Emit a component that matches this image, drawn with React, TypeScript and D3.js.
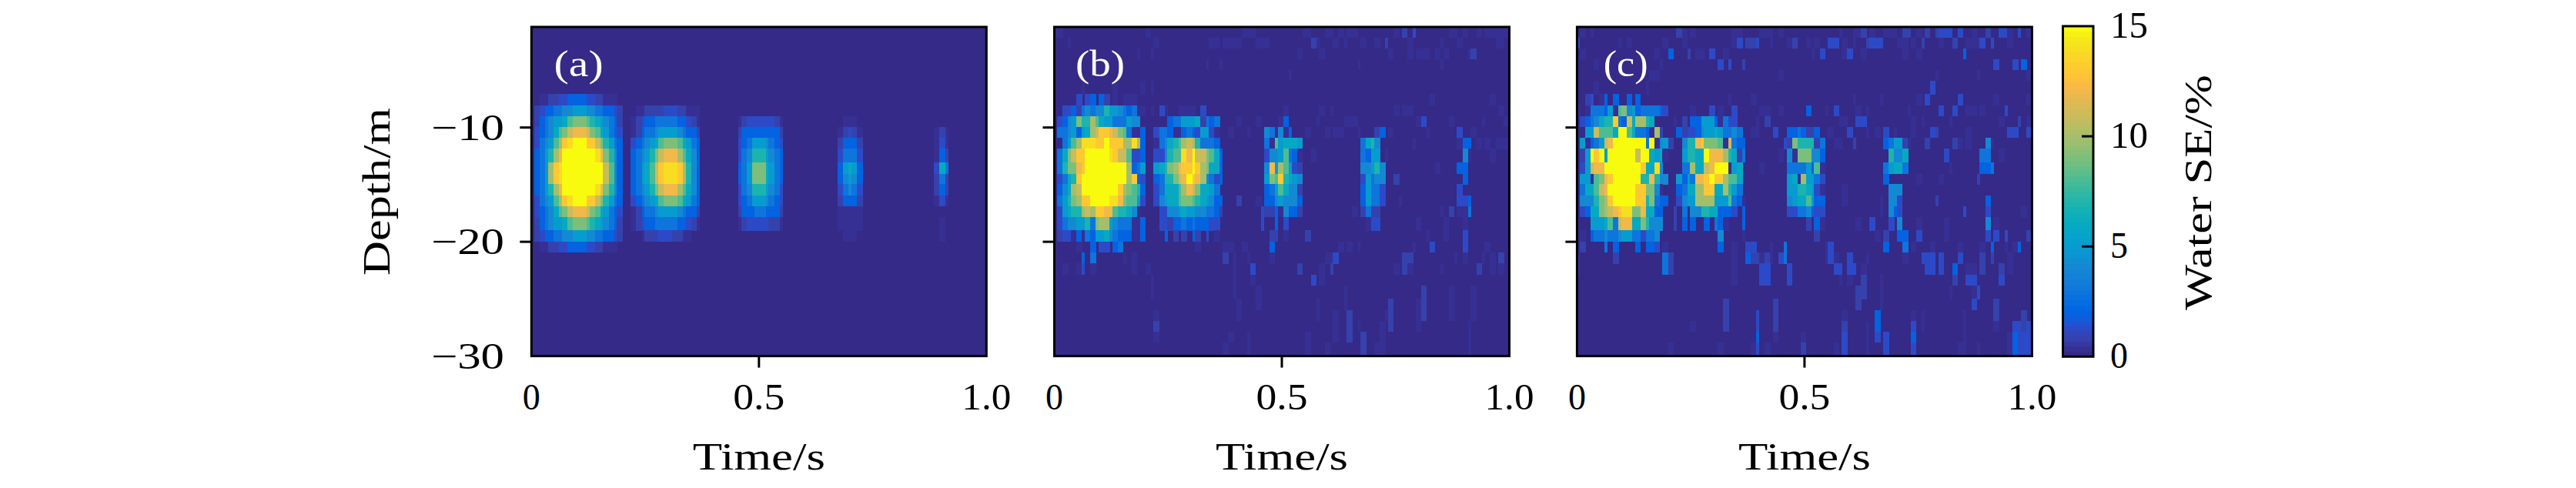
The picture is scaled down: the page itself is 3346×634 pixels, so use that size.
import React from 'react';
import * as d3 from 'd3';

// parula, 64 steps, as in the original figure
const parula = [
  '#352a87', '#363095', '#3637a0', '#3542ad', '#3244ba', '#2c4ac7', '#2053d4', '#0f5cdd',
  '#0363e1', '#0268e1', '#046de0', '#0871de', '#0d75dc', '#1079da', '#127dd8', '#1481d6',
  '#1485d4', '#1389d3', '#108ed2', '#0c93d2', '#0998d1', '#079ccf', '#06a0cd', '#06a4ca',
  '#06a7c6', '#07a9c2', '#0aacbe', '#0fafb9', '#15b1b4', '#1db3af', '#25b5a9', '#2eb7a4',
  '#38b99e', '#42bb98', '#4dbc92', '#59bd8c', '#65be86', '#71bf80', '#7cbf7b', '#87bf77',
  '#92bf73', '#9cbf6f', '#a5be6b', '#aebe67', '#b7bd64', '#c0bc60', '#c8bc5d', '#d1bb59',
  '#d9ba56', '#e1b952', '#e9b94e', '#f1b94a', '#f8ba44', '#fdbe3d', '#ffc337', '#fec832',
  '#fccd2e', '#fbd32a', '#f9d825', '#f7de21', '#f6e31d', '#f5e918', '#f6f113', '#f9fb0e',
];

const panelLabels = ['(a)', '(b)', '(c)'];
const xTickLabels = [
  { t: 0, label: '0' },
  { t: 0.5, label: '0.5' },
  { t: 1, label: '1.0' },
];
const xTickMarks = [0.5];
const yTickMarks = [-10, -20];
const yTickLabels = [
  { d: -10, label: '\u221210' },
  { d: -20, label: '\u221220' },
  { d: -30, label: '\u221230' },
];
const colorTickMarks = [5, 10];
const colorTickLabels = [0, 5, 10, 15];

// the raster is not even: 33 groups of one thin and two wide columns
const timeEdges = [...d3.range(33).flatMap(k => [k, k + 0.2, k + 0.6]), 33].map(v => v / 33);
const depthEdges = [
  -1.2, -2.13, -3.07, -4.02, -4.96, -5.9, -7.07, -8.04, -8.98, -9.93, -10.89, -11.85, -13.03, -14.04, -14.97,
  -15.92, -16.89, -17.83, -19, -19.97, -20.91, -21.89, -22.86, -23.83, -25, -25.96, -26.93, -27.87, -28.81, -30,
];

// each row: "startColumn=levels", anything not listed is 0
const levelValues: Record<string, number> = {
  '-': 0.25, '~': 0.45, '+': 0.8, '*': 1.3, 2: 2, 3: 3, 4: 4, 5: 5, 6: 6, 7: 7, 8: 8, 9: 9,
  A: 10, B: 11, C: 12, D: 13, E: 14, F: 15,
};

const panelA = [
  '', '', '', '', '', '',
  '2=~~++**2222**++~~-',
  '1=+*223344555443322*+ 23=-~++++***++~--',
  '1=+23455689998765432+ 22=-+*223333322*+~ 45=~+******+~ 68=---',
  '1=*234689BCCCB986532* 22=~+233455554322+ 45=+22222222+ 67=~+*+~ 88=-+-',
  '1=*3458ADEFFFDDB97532 22=*23456899986532 45=*23555432* 67=+222+ 88=~*~',
  '1=2357ACFFFFFFFEC9742 22=234579BCCCA8642 45=*347775432 67=*333* 88=~2+',
  '1=235ADEFFFFFFFFFB842 22=23568BDEEEDA742 45=2359996532 67=25652 88=*63',
  '1=235ADEFFFFFFFFFB842 22=23568BDEEEDA742 45=2359996532 67=24542 88=+3+',
  '1=2357ACFFFFFFFEC9742 22=234579BCCCA8642 45=*34777543* 67=*343* 88=+2+',
  '1=*3458ADEFFFDDB97532 22=*23456899986532 45=*23555432* 67=+222+ 88=-*~',
  '1=*234689BCCCB986532* 22=~+233455554322+ 45=+22233222+ 67=-----',
  '1=+23455689998765432+ 22=-+*223333322*+~ 45=~+*****++~ 67=~~~~~ 89=-',
  '1=+*223344555443322*+ 24=~+++***++~- 68=--- 89=-',
  '2=~~++**2222**++~~-',
  '', '', '', '', '', '', '', '', '',
];

const panelB = [
  '0=~~ 20=~ 41=--- 54=-- 59=-- 62=- 64=~~ 74=- 76=+ 78=* 86=~~ 89=- 92=~ 94=~~ 96=-- 98=-',
  '3=- 22=~ 34=-- 37=---- 44=--- 56=+- 61=- 63=~ 67=- 70=- 72=+ 77=- 84=- 88=- 96=~~',
  '18=- 21=- 53=~ 58=~ 73=~ 77=~ 79=~~~ 83=~ 85=~ 90=- 91=+',
  '33=- 36=- 66=~ 84=-',
  '51=-',
  '6=~ 13=~ 19=- 21=-',
  '5=* 7=*2 10=2+ 13=~ 15=~-- 82=~ 95=-',
  '2=**2+343447554323~~ 21=- 23=*~ 27=~~~~ 32=* 50=~ 58=~ 60=~ 74=~ 76=~~ 97=~',
  '1=*245977A8655333544 25=2335556+323 40=~ 44=~ 49=~2 57=- 63=~~~ 79=~* 86=~ 93=- 98=-',
  '1=3345256ABDDCB983--2 22=*332~~232*55*~ 38=~ 42=- 46=43~4-2 55=~ 59=~ 61=~~ 66=- 70=+2 73=~ 81=- 88=* 91=~',
  '2=358AEEEDDFDDDAAEA2 22=~34678ABA73332 46=3~856665 67=3674 78=~ 88=-22 92=~ 94=~ 96=~~~',
  '1=369BDDFFFFFEDBB8**2 22=**4788ECFBB9862 46=*445832- 56=~ 67=3255 72=- 89=4~ 95=~',
  '1=3799CDFFFFFFFFFA235 22=5679ACDDFDA9662 46=4C5A85*+ 67=44574 83=~ 88=22',
  '1=*367DFFFFFFFFFFAD2* 22=23779BCFDCA43*2 46=598D7654 67=*5344 74=+ 89=2',
  '1=246ABFFFFFFFFDA9872 22=*36668ACB96653 46=2358644+ 67=2533* 88=*',
  '1=3579ADDFFFFEEC9885* 22=*45668998765422 40=+ 44=~ 46=22454442 67=2533* 75=- 88=**2',
  '1=*5677ABADDCC87764~ 23=**44565544332+ 45=*++2~422+ 65=~ 67=+3++ 84=- 86=+ 88=~~3',
  '1=*34455739AA54333--2 23=**+22323222** 45=* 48=2 50=* 68=~** 79=~ 85=~ 89=~',
  '1=+**~2~3255643222--2 24=2 26=+ 28=+ 30=2+ 33=* 35=~ 47=++ 50=~ 55=+ 81=- 85=~ 89=*',
  '5=~ 8=2 10=** 13=23 31=~ 37=~~ 41=~ 47=2 62=~ 64=~ 66=- 78=- 82=* 89=* 94=~',
  '6=2 8=3 15=- 17=~ 37=+ 39=~ 42=- 47=~ 59=~~ 61=* 76=++ 87=- 89=~ 93=~ 95=~ 97=+',
  '2=~ 5=~* 8=~ 17=~ 20=~ 39=- 43=* 53=+ 58=~ 60=+ 74=~ 76=+~ 84=- 92=+ 95=~ 97=~',
  '21=~ 39=- 43=~ 56=* 58=~',
  '21=~ 39=- 44=- 63=- 80=+ 86=~ 91=-',
  '40=~ 44=- 57=- 63=- 73=+ 79=~+ 86=~ 91=-',
  '22=~ 40=~ 57=- 61=~ 64=+ 72=~+ 79=~+ 86=~ 91=-',
  '22=+ 61=~ 64=+ 66=- 71=~ 73=+ 79=~ 90=-',
  '22=~ 38=~ 42=- 55=~ 61=~ 64=+ 67=+ 71=~ 90=~',
  '37=~ 42=- 55=~ 59=~ 67=+ 70=~~ 90=-',
];

const panelC = [
  '1=- 3=- 22=+- 25=~ 34=-- 40=~ 41=~~ 44=~ 57=~ 60=~~+ 64=~ 67=~~~ 71=++ 74=~ 76=+ 78=+*** 83=* 86=~ 89=+ 92=** 94=~ 96=* 98=~',
  '0=* 9=- 11=- 19=~ 23=~ 34=~* 37=++* 42=~ 46=~+ 50=- 52=~ 55=** 58=- 60=- 63=+*** 70=~~ 73=- 75=+ 79=- 82=+ 85=~~~ 88=* 90=* 94=~',
  '1=~ 17=~ 20=2 24=+ 26=~~ 29=* 32=- 51=~ 53=* 58=~* 62=~ 71=- 74=~ 84=2',
  '4=- 18=~ 31=* 33=* 36=+ 91=* 95=* 97=2',
  '16=~~ 44=~ 78=- 87=~ 98=-',
  '4=- 15=~ 77=*',
  '2=+* 5=~2 8=2 11=2 13=2 33=~ 38=~ 60=- 66=- 74=~ 76=* 83=* 91=- 98=-',
  '0=~ 2=~33325~8945233332* 25=~ 29=* 31=~ 34=* 40=~~ 44=~ 50=2 54=~ 56=* 61=~ 63=- 72=- 79=* 82=* 85=~~ 88=~ 93=*',
  '1=*234677D32B6AA76 21=- 23=+ 25=225552~3** 39=- 41=+ 57=~~ 61=** 73=~ 75=~ 81=- 92=~ 96=+ 98=~',
  '2=55B8886FF86332~A+ 22=2+**2455653343 38=~- 43=* 46=2232++2 55=~ 59=* 63=~ 65=~ 67=* 69=~ 73=~ 77=*+ 85=~ 94=** 98=*',
  '1=5~235BCFFFFFFF3F~45 20=+ 23=477CD9998~B322 45=*+97777+3 56=~~ 60=+ 67=2355+~ 76=+ 82=+~ 85=~ 89=4~',
  '1=+5FDF5FFFFFFBFF656~ 23=57766FCCCA76+3 44=~ 46=4~999442 68=7446 80=* 88=33 92=~',
  '1=*5BCCFFFFFFFFD66E4 23=33A66BCFFF~56 40=- 46=3333528~ 67=35663 81=~ 88=223',
  '1=55~89CDFFFFFF77C744 22=5253CCDFDDA886 46=56~A553* 67=2 74=~ 79=~ 87=+',
  '1=3668BCFFFFFFDD994~ 22=2366AADD66A753 46=557765*- 58=- 68=444',
  '1=44479ADFFFFFDD79322 22=*455AAAA555832~ 46=45668522 58=~ 66=~ 68=44* 78=+ 89=2',
  '1=*2669ABCDEE99C6622 21=+ 23=3 25=447766222* 36=2 46=**3342** 66=~ 68=42* 84=* 89=* 97=~',
  '3=555683BCC6697444 21=+ 23=2 25=2 28=2 30=32~ 36=2 50=+ 52=2~ 61=~ 64=* 68=* 70=4 74=~ 80=~ 89=4 91=~',
  '1=~ 3=23343345533*334 31=4 36=~ 52=+ 65=- 67=+ 70=22 74=* 80=- 89=* 91=* 93=* 98=+',
  '1=+ 6=3 8=2 13=2 15=22* 19=~ 31=2 34=~ 37=** 42=~ 45=3 54=~* 67=2 71=3 73=~ 77=- 83=~ 88=~ 90=2 93=- 95=- 96=2',
  '0=~ 8=+ 19=3+ 34=~ 37=2++ 40=~+~ 44=*3 54=~* 56=~ 59=* 63=- 71=~ 75=*** 79=* 83=* 88=+ 90=+ 94=~',
  '0=~ 19=3+ 34=~ 40=** 46=* 56=** 59=** 62=~ 76=** 79=* 82=2 85=~~ 88=+ 92=+ 94=~',
  '34=- 40=** 46=* 57=- 59=~ 62=+ 66=~ 82=+ 85=** 92=*',
  '61=++ 66=~ 81=- 86=~*',
  '32=+ 43=+ 61=+ 66=~ 86=* 91=+',
  '32=+ 39=* 43=+ 58=~ 65=2 73=~ 75=- 84=- 91=+ 97=+',
  '25=~ 32=+ 39=* 43=+ 58=+ 63=- 65=2 73=* 75=~ 84=~ 91=~ 95=**+*',
  '39=2 43=~ 49=~ 58=* 63=~ 65=* 67=* 73=2 84=~ 94=~ 95=2***',
  '20=~ 31=~ 38=~* 41=~ 49=+ 56=~ 58=* 63=~ 67=* 73=* 83=~~ 87=~ 94=~ 95=2***',
];

const panelRows = [panelA, panelB, panelC];

const parseRow = (row: string) => {
  const cells: { col: number; value: number }[] = [];
  row.split(' ').filter(Boolean).forEach(seg => {
    const [start, levels] = seg.split('=');
    levels.split('').forEach((ch, i) => cells.push({ col: +start + i, value: levelValues[ch] }));
  });
  return cells;
};

const width = 3346;
const height = 634;
const font = '"Liberation Serif", serif';
const panelLeft = [690.3, 1369.5, 2048.4];
const panelWidth = 591;
const plotTop = 35;
const plotBottom = 462.6;
const labelX = [719.6, 1397, 2082.7];
const labelLen = [64, 64, 58];

const color = d3.scaleQuantize<string>().domain([0, 15]).range(parula);

function T({ x, y, len, anchor = 'middle', fill = '#000', size = 48, rotate = false, children }: any) {
  return (
    <text
      x={rotate ? undefined : x}
      y={rotate ? undefined : y}
      transform={rotate ? `translate(${x},${y}) rotate(-90)` : undefined}
      textAnchor={anchor}
      fontFamily={font}
      fontSize={size}
      fill={fill}
      textLength={len}
      lengthAdjust="spacingAndGlyphs"
    >
      {children}
    </text>
  );
}

function Panel({ index }: { index: number }) {
  const left = panelLeft[index];
  const xScale = d3.scaleLinear().domain([0, 1]).range([left, left + panelWidth]);
  const yScale = d3.scaleLinear().domain([-30, -1.2]).range([plotBottom, plotTop]);

  return (
    <g>
      <rect x={left} y={plotTop} width={panelWidth} height={plotBottom - plotTop} fill={parula[0]} />
      <g shapeRendering="crispEdges">
        {panelRows[index].map((row, r) =>
          parseRow(row).map(({ col, value }) => (
            <rect
              key={`${r}-${col}`}
              x={xScale(timeEdges[col])}
              y={yScale(depthEdges[r])}
              width={xScale(timeEdges[col + 1]) - xScale(timeEdges[col]) + 0.4}
              height={yScale(depthEdges[r + 1]) - yScale(depthEdges[r]) + 0.4}
              fill={color(value)}
            />
          ))
        )}
      </g>
      <rect x={left} y={plotTop} width={panelWidth} height={plotBottom - plotTop} fill="none" stroke="#000" strokeWidth={3} />

      {xTickMarks.map(t => (
        <line key={t} x1={xScale(t)} x2={xScale(t)} y1={plotBottom} y2={plotBottom + 15} stroke="#000" strokeWidth={3} />
      ))}
      {yTickMarks.map(d => (
        <line key={d} x1={left - 15} x2={left} y1={yScale(d)} y2={yScale(d)} stroke="#000" strokeWidth={3} />
      ))}
      {xTickLabels.map(({ t, label }) => (
        <T key={t} x={xScale(t)} y={532} len={label.length === 1 ? 23 : label === '0.5' ? 67 : 64}>{label}</T>
      ))}
      <T x={xScale(0.5)} y={610} len={172} size={50}>Time/s</T>
      <T x={labelX[index]} y={99} len={labelLen[index]} anchor="start" fill="#fff">{panelLabels[index]}</T>

      {index === 0 && yTickLabels.map(({ d, label }) => (
        <T key={d} x={655} y={yScale(d) + 16} len={95} anchor="end">{label}</T>
      ))}
      {index === 0 && <T x={506} y={249} len={218} size={50} rotate>Depth/m</T>}
    </g>
  );
}

function ColorBar() {
  const left = 2679.5;
  const right = 2719;
  const cScale = d3.scaleLinear().domain([0, 15]).range([463.3, 34]);
  const step = (cScale(0) - cScale(15)) / parula.length;

  return (
    <g>
      <g shapeRendering="crispEdges">
        {parula.map((c, i) => (
          <rect key={c} x={left} y={cScale(0) - step * (i + 1)} width={right - left} height={step + 0.5} fill={c} />
        ))}
      </g>
      <rect x={left} y={cScale(15)} width={right - left} height={cScale(0) - cScale(15)} fill="none" stroke="#000" strokeWidth={3} />
      {colorTickMarks.map(v => (
        <line key={v} x1={right - 15} x2={right} y1={cScale(v)} y2={cScale(v)} stroke="#000" strokeWidth={3} />
      ))}
      {colorTickLabels.map(v => (
        <T key={v} x={2741} y={cScale(v) + 15} anchor="start" len={v >= 10 ? 49 : 23}>{v}</T>
      ))}
      <T x={2872} y={250} len={306} size={50} rotate>Water SE/%</T>
    </g>
  );
}

export default function App() {
  return (
    <svg
      width={width}
      height={height}
      viewBox={`0 0 ${width} ${height}`}
      style={{ position: 'fixed', left: 0, top: 0, display: 'block', background: '#fff' }}
    >
      {panelLabels.map((_, i) => <Panel key={i} index={i} />)}
      <ColorBar />
    </svg>
  );
}
